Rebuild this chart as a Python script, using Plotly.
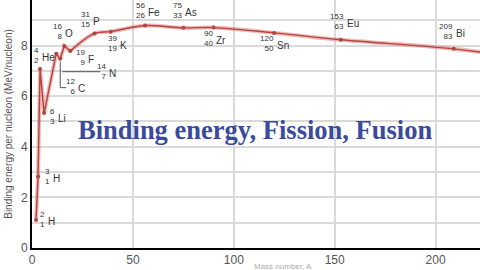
import plotly.graph_objects as go

# ---- data ----
mass_number = [2, 3, 4, 6, 12, 14, 16, 19, 31, 39, 56, 75, 90, 120, 153, 209, 238]
atomic_number = [1, 1, 2, 3, 6, 7, 8, 9, 15, 19, 26, 33, 40, 50, 63, 83, 92]
symbols = ["H", "H", "He", "Li", "C", "N", "O", "F", "P", "K", "Fe", "As", "Zr", "Sn", "Eu", "Bi", "U"]
binding_energy = [1.11, 2.83, 7.07, 5.33, 7.68, 7.48, 7.98, 7.78, 8.48, 8.55, 8.79, 8.70, 8.71, 8.50, 8.23, 7.87, 7.57]
x_ticks = [0, 50, 100, 150, 200]
y_ticks = [0, 2, 4, 6, 8]

# label offsets in pixels from each point (dx right, dy down); None = no label
label_offsets = [(10, 0), (13, 0), (0, -14), (12, 3), (20, 33), (47, 13), (-1, -15), (16, 6),
                 (-3, -14), (8, 12), (1, -15), (0, -17), (1, 11), (1, 11), (5, -18), (1, -17), None]

split = 7  # jagged light-nuclei part drawn straight, rest smooth

line_core = "#b5443f"
line_halo = "rgba(225,120,120,0.5)"

fig = go.Figure()
for xs, ys, shape in [(mass_number[:split + 1], binding_energy[:split + 1], "linear"),
                      (mass_number[split:], binding_energy[split:], "spline")]:
    fig.add_trace(go.Scatter(x=xs, y=ys, mode="lines", line=dict(color=line_halo, width=4, shape=shape),
                             hoverinfo="skip", showlegend=False))
    fig.add_trace(go.Scatter(x=xs, y=ys, mode="lines", line=dict(color=line_core, width=1.4, shape=shape),
                             hoverinfo="skip", showlegend=False))
fig.add_trace(go.Scatter(x=mass_number, y=binding_energy, mode="markers",
                         marker=dict(color=line_core, size=4), showlegend=False))

num_font = dict(family="Liberation Sans, Arial", size=8, color="#333333")
sym_font = dict(family="Liberation Sans, Arial", size=10, color="#333333")
annotations = []
for a, z, s, be, off in zip(mass_number, atomic_number, symbols, binding_energy, label_offsets):
    if off is None:
        continue
    dx, dy = off
    annotations.append(dict(x=a, y=be, xref="x", yref="y", text=f"{a}<br>{z}", showarrow=False,
                            xanchor="right", yanchor="middle", align="right",
                            xshift=dx - 0.5, yshift=-dy, font=num_font, borderpad=0))
    annotations.append(dict(x=a, y=be, xref="x", yref="y", text=s, showarrow=False,
                            xanchor="left", yanchor="middle",
                            xshift=dx + 0.5, yshift=-(dy + 2), font=sym_font, borderpad=0))

annotations.append(dict(x=0.498, y=0.476, xref="paper", yref="paper", showarrow=False,
                        text="<b>Binding energy, Fission, Fusion</b>",
                        font=dict(family="Liberation Serif, Times New Roman", size=26.5, color="#3a4a9c")))
annotations.append(dict(x=0.56, y=-0.052, xref="paper", yref="paper", showarrow=False, yanchor="top",
                        text="Mass number, A", borderpad=0,
                        font=dict(family="Liberation Sans, Arial", size=8, color="#aaaaaa")))

# leader lines for C and N (pixel offsets anchored at data points)
i_c = symbols.index("C")
i_n = symbols.index("N")
shapes = []
for idx, segs in [(i_c, [((4, 8), (4, 34)), ((4, 34), (10, 34))]), (i_n, [((2, 13), (40, 13))])]:
    for (x0, y0), (x1, y1) in segs:
        shapes.append(dict(type="line", xref="x", yref="y", xsizemode="pixel", ysizemode="pixel",
                           xanchor=mass_number[idx], yanchor=binding_energy[idx],
                           x0=x0, x1=x1, y0=-y0, y1=-y1, line=dict(color="#555555", width=1)))

grid_col = "#dadada"
fig.update_layout(
    width=480, height=270, margin=dict(l=32, r=0, t=0, b=22),
    paper_bgcolor="white", plot_bgcolor="white",
    annotations=annotations, shapes=shapes,
    xaxis=dict(range=[0, 222], tickvals=x_ticks, showgrid=True, gridcolor=grid_col, gridwidth=1.5,
               showline=True, linecolor="black", linewidth=2, zeroline=False, ticks="",
               tickfont=dict(family="Liberation Sans, Arial", size=12, color="#555555")),
    yaxis=dict(range=[0, 9.8], tickvals=y_ticks, showgrid=True, gridcolor=grid_col, gridwidth=1.5,
               minor=dict(dtick=1, showgrid=True, gridcolor=grid_col, gridwidth=1.5),
               showline=True, linecolor="black", linewidth=2, zeroline=False, ticks="",
               tickfont=dict(family="Liberation Sans, Arial", size=12, color="#555555"),
               title=dict(text="Binding energy per nucleon (MeV/nucleon)", standoff=6,
                          font=dict(family="Liberation Sans, Arial", size=10, color="#555555")),
               automargin=False),
)

fig.write_html("out.html")
